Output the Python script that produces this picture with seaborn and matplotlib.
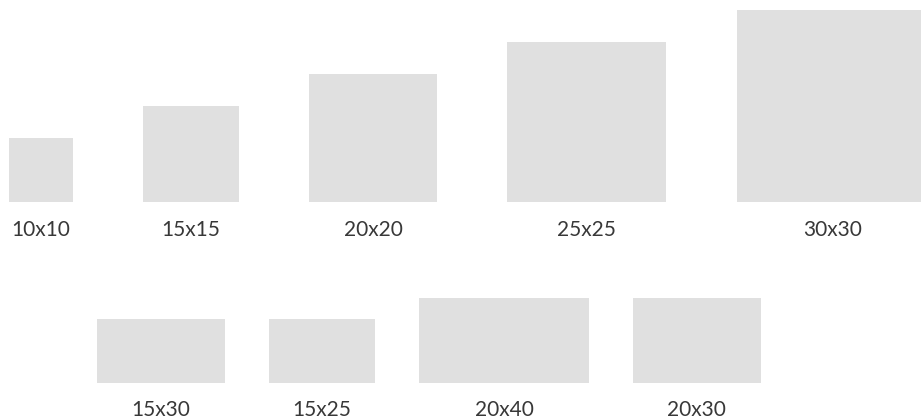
import matplotlib
matplotlib.use('Agg')
import matplotlib.pyplot as plt
import seaborn as sns

# sizes in units (height x width as written in the label)
top_labels = ['10x10', '15x15', '20x20', '25x25', '30x30']
top_heights = [10, 15, 20, 25, 30]
top_widths = [10, 15, 20, 25, 30]

bottom_labels = ['15x30', '15x25', '20x40', '20x30']
bottom_heights = [15, 15, 20, 20]
bottom_widths = [30, 25, 40, 30]

BOX_COLOR = '#e0e0e0'
TEXT_COLOR = '#383838'

sns.set_theme(style='white')
plt.rcParams['font.family'] = ['Lato', 'DejaVu Sans']

fig = plt.figure(figsize=(9.21, 4.19), dpi=100)
ax = fig.add_axes([0, 0, 1, 1])
ax.set_xlim(0, 921)
ax.set_ylim(419, 0)  # pixel-like coordinates, y downwards
ax.axis('off')


def draw_row(labels, heights, widths, scale, x_start, gap, baseline, label_y):
    x = x_start
    for lab, h, w in zip(labels, heights, widths):
        pw, ph = w * scale, h * scale
        ax.bar(x, -ph, width=pw, bottom=baseline, align='edge',
               color=BOX_COLOR, linewidth=0)
        ax.text(x + pw / 2, label_y, lab, ha='center', va='center',
                fontsize=15, color=TEXT_COLOR, fontweight='normal')
        x += pw + gap


draw_row(top_labels, top_heights, top_widths, 6.37, 9, 70.5, 201.5, 229.5)
draw_row(bottom_labels, bottom_heights, bottom_widths, 4.25, 97.3, 44, 383, 410)

fig.savefig('out.png', dpi=100)
